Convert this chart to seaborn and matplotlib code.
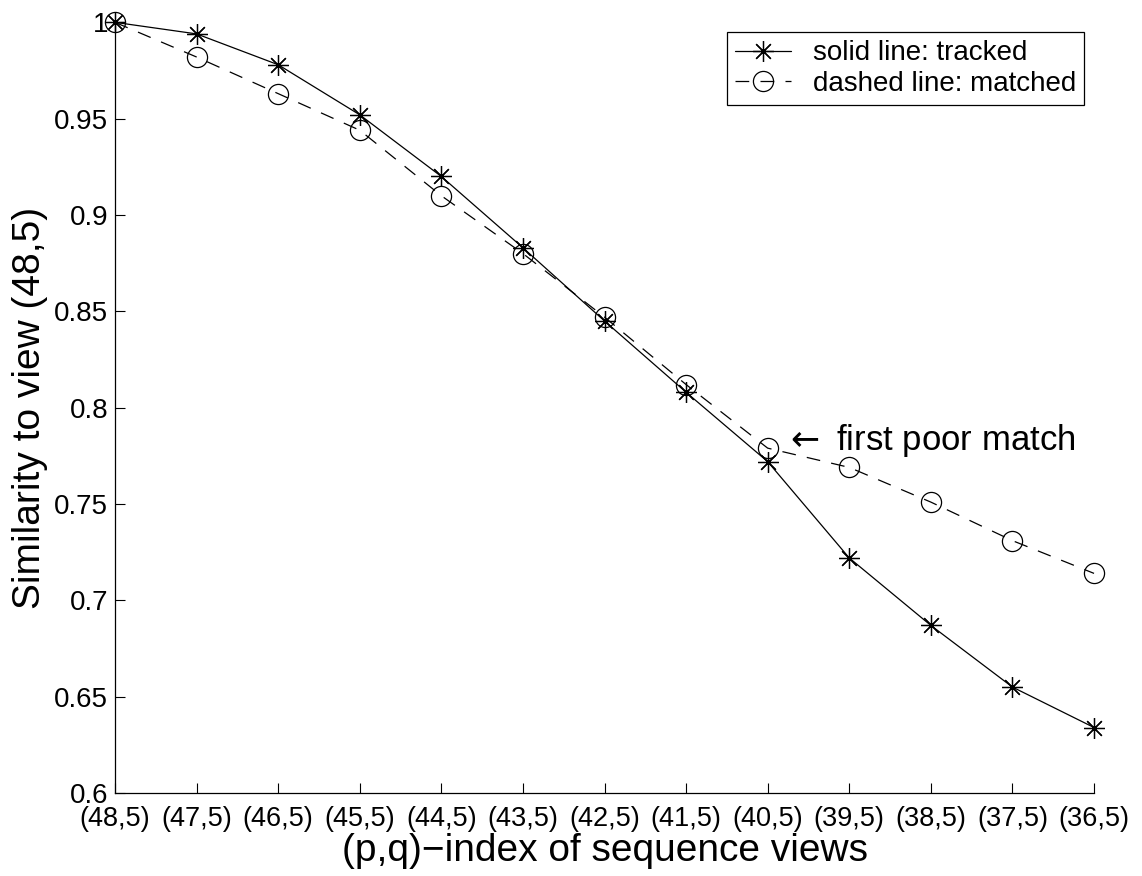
import matplotlib
matplotlib.use("Agg")
import matplotlib.pyplot as plt
import numpy as np
import pandas as pd
import seaborn as sns

# View indices along the sequence, and similarity of each view to view (48,5)
view_labels = ["(48,5)", "(47,5)", "(46,5)", "(45,5)", "(44,5)", "(43,5)", "(42,5)",
               "(41,5)", "(40,5)", "(39,5)", "(38,5)", "(37,5)", "(36,5)"]
tracked = [1.000, 0.994, 0.978, 0.952, 0.920, 0.883, 0.845,
           0.808, 0.772, 0.722, 0.687, 0.655, 0.634]
matched = [1.000, 0.982, 0.963, 0.944, 0.910, 0.880, 0.847,
           0.812, 0.779, 0.769, 0.751, 0.731, 0.714]
y_ticks = [0.6, 0.65, 0.7, 0.75, 0.8, 0.85, 0.9, 0.95, 1.0]
y_tick_labels = ["0.6", "0.65", "0.7", "0.75", "0.8", "0.85", "0.9", "0.95", "1"]
poor_match_index = 8

sns.set_style("ticks")
plt.rcParams["font.family"] = ["Liberation Sans", "DejaVu Sans"]
plt.rcParams["mathtext.fontset"] = "dejavusans"
for key in ("text.color", "axes.labelcolor", "xtick.color", "ytick.color",
            "axes.edgecolor"):
    plt.rcParams[key] = "black"
plt.rcParams["xtick.direction"] = "in"
plt.rcParams["ytick.direction"] = "in"

pos = np.arange(len(view_labels))
df = pd.DataFrame({"pos": pos, "tracked": tracked, "matched": matched})

fig = plt.figure(figsize=(11.42, 8.76), dpi=100)
ax = fig.add_axes([0.1007, 0.0947, 0.8573, 0.8798])

asterisk = (8, 2, 0)
sns.lineplot(data=df, x="pos", y="tracked", ax=ax, color="black", linewidth=0.9,
             marker=asterisk, markersize=15, markeredgewidth=0.9,
             markeredgecolor="black", label="solid line: tracked", clip_on=False)
sns.lineplot(data=df, x="pos", y="matched", ax=ax, color="black", linewidth=0.9,
             linestyle=(0, (11, 9)), marker="o", markersize=14.5,
             markerfacecolor="none", markeredgecolor="black", markeredgewidth=0.9,
             label="dashed line: matched", clip_on=False)

ax.set_xlim(0, len(view_labels) - 1)
ax.set_ylim(0.6, 1.0)
ax.set_xticks(pos)
ax.set_xticklabels(view_labels, fontsize=19.5)
ax.set_yticks(y_ticks)
ax.set_yticklabels(y_tick_labels, fontsize=20)
ax.tick_params(axis="both", length=7, width=0.8, color="black", pad=5)
ax.tick_params(axis="x", pad=9)

for side in ("top", "right"):
    ax.spines[side].set_visible(False)
for side in ("left", "bottom"):
    ax.spines[side].set_linewidth(0.9)
    ax.spines[side].set_color("black")

ax.set_xlabel("(p,q)\u2212index of sequence views", fontsize=28, labelpad=1)
ax.set_ylabel("Similarity to view (48,5)", fontsize=28, labelpad=4)

ax.text(poor_match_index + 0.2, matched[poor_match_index] + 0.004,
        r"$\leftarrow$ first poor match", fontsize=25, va="center", ha="left")

leg = ax.legend(loc="upper right", fontsize=20, frameon=True, fancybox=False,
                framealpha=1, edgecolor="black", borderaxespad=0.35,
                handlelength=2.0, handletextpad=0.8, labelspacing=0.15,
                borderpad=0.3)
leg.get_frame().set_linewidth(0.9)

fig.savefig("out.png", dpi=100)
